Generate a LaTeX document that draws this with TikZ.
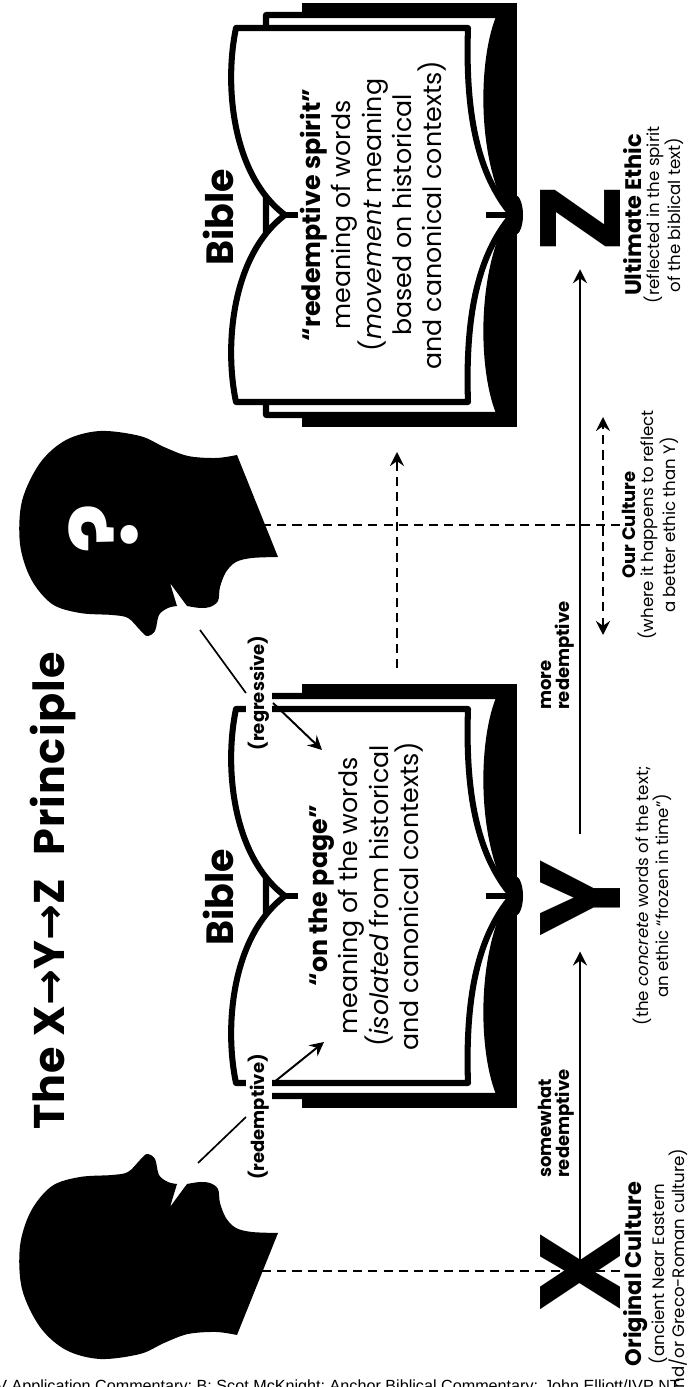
\documentclass[tikz,border=0pt]{standalone}
\usepackage{fontspec}
\setmainfont{Poppins}
\newfontfamily\arrowfont{DejaVu Sans}
\newfontfamily\creditfont{Liberation Sans}
\usetikzlibrary{arrows.meta}

% open book, centred on its spine
\newcommand\openbook[1]{%
  \begin{scope}[shift={#1}]
    \fill[bookcover] (-212,-302) rectangle (212,-517);
    \fill[bookcover] (0,-515) ellipse [x radius=20, y radius=8];
    \filldraw[leaf] (-200,-266) -- (200,-266) -- (200,-500) .. controls (160,-482) and (60,-478) .. (0,-512)
      .. controls (-60,-478) and (-160,-482) .. (-200,-500) -- cycle;
    \filldraw[leaf] (0,-285) .. controls (40,-232) and (130,-224) .. (187,-236) -- (187,-468)
      .. controls (100,-465) and (40,-478) .. (0,-512) .. controls (-40,-478) and (-100,-465) .. (-187,-468)
      -- (-187,-236) .. controls (-130,-224) and (-40,-232) .. (0,-285) -- cycle;
    \draw[line width=4.3pt] (0,-285) -- (0,-298);
    \draw[line width=4.3pt] (0,-486) -- (0,-512);
  \end{scope}}

% head seen from the side, face to the right
\newcommand\headoutline{(52,-237) -- (154,-278)
  -- plot[smooth, tension=0.55] coordinates {(154,-278) (155,-252) (159,-236) (169,-226) (184,-220) (198,-218) (204,-210) (205,-200) (203,-187)}
  -- (180,-170) -- (203,-177)
  -- plot[smooth, tension=0.55] coordinates {(203,-177) (205,-168) (212,-159) (228,-155) (233,-147) (227,-140) (215,-128) (212,-112) (210,-80) (201,-52) (176,-31) (141,-20) (98,-22) (60,-40) (37,-66) (28,-100) (33,-140) (44,-164) (53,-188) (55,-216) (52,-237)}
  -- cycle}

\begin{document}
\begin{tikzpicture}[x=0.025cm, y=0.025cm, every node/.style={align=center, inner sep=0pt},
    bookcover/.style={fill=black},
    leaf/.style={fill=white, draw=black, line width=4.3pt, line join=round},
    silhouette/.style={fill=black},
    guide/.style={line width=1.7pt, dash pattern=on 6.5pt off 4.3pt},
    tip/.style={-{Stealth[length=10pt, width=10pt, inset=3.5pt]}},
    flow/.style={line width=1.4pt, tip},
    tag/.style={font=\bfseries\fontsize{12.8}{13}\selectfont, fill=white, inner sep=1.5pt},
    booktext/.style={font=\fontsize{18}{21}\selectfont},
    biglabel/.style={font=\bfseries\fontsize{27}{30}\selectfont, anchor=base},
    letter/.style={font=\bfseries\fontsize{81}{81}\selectfont, anchor=base},
    culture/.style={font=\fontsize{11.8}{13}\selectfont, anchor=north},
    rate/.style={font=\bfseries\fontsize{12.8}{13}\selectfont, align=left, anchor=south west}]
\begin{scope}[rotate=90, transform shape]
\useasboundingbox (0,0) rectangle (1387,-688);

% Guides below the heads
\coordinate (neckX) at (116,-262);
\coordinate (footX) at (116,-620);
\coordinate (neckQ) at (862,-262);
\coordinate (footQ) at (862,-620);
\draw[guide] (neckX) -- (footX);
\draw[guide] (neckQ) -- (footQ);

% Heads
\fill[silhouette] \headoutline;
\begin{scope}[shift={(984,0)}, xscale=-1]
  \fill[silhouette] \headoutline;
\end{scope}
\node (qmark) [text=white, font=\bfseries\fontsize{66}{66}\selectfont] at (858,-103) {?};

% Books
\openbook{(491,0)}
\openbook{(1172,0)}

% Nodes
\node (title) [font=\bfseries\fontsize{30.5}{32}\selectfont\addfontfeature{LetterSpace=3}, anchor=base] at (496,-64) {The X{\arrowfont\bfseries →}Y{\arrowfont\bfseries →}Z\hspace{0.55em}Principle};
\node (bibleY) [biglabel] at (490,-233) {Bible};
\node (bibleZ) [biglabel] at (1170,-233) {Bible};
\node (pageY) [booktext] at (491,-366) {{\bfseries “on the page”}\\meaning of the words\\(\textit{isolated} from historical\\and canonical contexts)};
\node (spiritZ) [booktext] at (1172,-373) {{\bfseries “redemptive spirit”}\\meaning of words\\(\textit{movement} meaning\\based on historical\\and canonical contexts)};
\node (redlbl) [tag] at (270,-259) {(redemptive)};
\node (reglbl) [tag] at (694,-259) {(regressive)};
\node (X) [letter] at (115,-620) {X};
\node (Y) [letter] at (489,-620) {Y};
\node (Z) [letter] at (1168,-620) {Z};
\node (somewhat) [rate] at (209,-575) {somewhat\\redemptive};
\node (more) [rate] at (677,-575) {more\\redemptive};
\node (orig) [culture] at (113,-623) {{\bfseries\fontsize{16}{16}\selectfont Original Culture}\\(ancient Near Eastern\\and/or Greco-Roman culture)};
\node (concr) [culture] at (491,-633) {(the \textit{concrete} words of the text;\\an ethic “frozen in time”)};
\node (ours) [culture] at (862,-622) {{\bfseries\fontsize{12.8}{14}\selectfont Our Culture}\\(where it happens to reflect\\a better ethic than Y)};
\node (ult) [culture] at (1172,-623) {{\bfseries\fontsize{16}{16}\selectfont Ultimate Ethic}\\(reflected in the spirit\\of the biblical text)};
\node (credit) [anchor=north west, rotate=-90, font=\creditfont\fontsize{11.5}{12}\selectfont] at (7,4) {V Application Commentary; B: Scot McKnight; Anchor Biblical Commentary: John Elliott/IVP NT};

% Arrows
\coordinate (mouthX) at (224,-198);
\coordinate (mouthQ) at (757,-200);
\coordinate (redfoot) at (304,-273);
\coordinate (redtip) at (345,-324);
\coordinate (regfoot) at (684,-273);
\coordinate (regtip) at (637,-322);
\coordinate (pastY) at (719,-397);
\coordinate (toZ) at (935,-397);
\coordinate (oursL) at (752,-603);
\coordinate (oursR) at (970,-603);
\draw[line width=1.2pt] (mouthX) -- (redlbl.north);
\draw[line width=1.2pt] (mouthQ) -- (reglbl.north);
\draw[flow] (redfoot) -- (redtip);
\draw[flow] (regfoot) -- (regtip);
\draw[flow, shorten >=0.375cm] (X.center) -- (Y.west);
\draw[flow, shorten <=0.625cm, shorten >=0.4cm] (Y.east) -- (Z.west);
\draw[guide, tip] (pastY) -- (toZ);
\draw[guide, {Stealth[length=10pt, width=10pt, inset=3.5pt]}-{Stealth[length=10pt, width=10pt, inset=3.5pt]}] (oursL) -- (oursR);
\end{scope}
\end{tikzpicture}
\end{document}
